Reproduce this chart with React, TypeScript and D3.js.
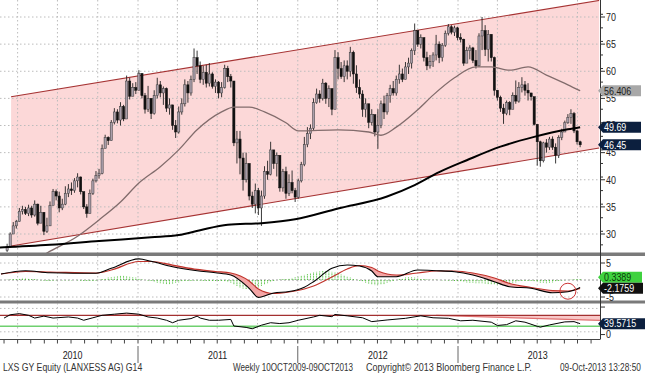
import React from "react";
import * as d3 from "d3";

// ---------------- data ----------------
const firstWeek = [2010, 2, 8]; // weekly candles start (Mon 8 Mar 2010)
const firstOpen = 27.0;
const closes = [
  27.6, 30.0, 31.5, 32.3, 34.2, 34.5, 33.8, 34.8, 33.5, 35.5,
  32.0, 34.0, 30.5, 31.5, 35.3, 37.8, 37.0, 34.8, 35.5, 37.5,
  38.3, 38.0, 39.8, 40.5, 37.8, 35.0, 33.8, 37.5, 39.8, 40.8,
  41.2, 45.8, 47.8, 47.2, 50.6, 52.5, 51.0, 53.5, 51.2, 58.2,
  55.4, 57.0, 56.5, 59.6, 55.5, 53.0, 55.0, 52.2, 55.5, 57.5,
  56.0, 56.8, 53.2, 53.8, 50.0, 48.8, 52.5, 54.0, 57.5, 56.0,
  58.5, 62.5, 61.0, 58.5, 59.8, 57.8, 59.5, 57.2, 58.0, 56.0,
  57.0, 60.5, 59.0, 58.2, 46.8, 47.5, 44.0, 40.0, 43.0, 37.0,
  35.5, 38.0, 34.8, 37.0, 41.5, 41.0, 45.5, 43.0, 44.5, 38.5,
  41.5, 37.5, 39.5, 38.0, 36.8, 39.8, 42.8, 46.5, 48.5, 49.5,
  54.2, 55.8, 55.0, 57.8, 55.0, 56.8, 53.0, 62.5, 60.5, 59.0,
  61.0, 60.0, 63.5, 59.5, 57.0, 55.8, 53.0, 54.0, 50.6, 52.0,
  48.8, 50.0, 54.0, 52.5, 55.5, 56.8, 56.0, 58.5, 59.5, 58.5,
  60.8, 61.5, 63.8, 67.5, 65.0, 66.2, 62.5, 61.0, 61.8, 63.0,
  65.0, 62.5, 64.8, 67.0, 68.2, 67.2, 68.0, 66.2, 65.9, 61.5,
  63.8, 64.3, 62.0, 61.0, 66.5, 67.5, 64.0, 66.8, 62.5, 56.5,
  55.2, 53.2, 52.2, 54.2, 53.0, 55.5, 54.5, 57.0, 57.5, 56.5,
  56.0, 55.3, 50.2, 47.0, 43.5, 46.8, 46.0, 47.5, 46.0, 44.5,
  47.8, 48.8, 50.5, 51.5, 52.2, 49.0, 47.0, 46.45,
];
const highs = [
  28.2, 30.3, 32.2, 32.6, 34.8, 35.2, 35.0, 35.4, 35.2, 36.2,
  35.6, 35.2, 33.8, 33.0, 36.0, 38.3, 38.2, 37.8, 36.5, 38.8,
  39.2, 39.5, 40.3, 41.2, 40.6, 37.6, 35.5, 38.2, 40.2, 41.6,
  42.0, 46.5, 48.3, 48.0, 51.0, 53.2, 53.0, 54.3, 53.8, 59.2,
  58.8, 57.8, 58.0, 60.2, 59.5, 56.0, 57.3, 55.0, 56.5, 58.8,
  58.2, 57.2, 57.0, 55.0, 53.5, 51.0, 53.5, 55.0, 58.5, 58.2,
  59.2, 64.2, 63.8, 61.8, 61.0, 61.2, 61.5, 59.8, 58.5, 58.2,
  58.0, 61.2, 61.0, 59.5, 57.8, 49.0, 49.0, 45.0, 45.0, 39.0,
  37.8, 39.3, 38.5, 38.0, 42.5, 43.5, 47.0, 45.5, 45.0, 42.5,
  42.0, 42.4, 41.0, 41.7, 38.5, 40.2, 43.3, 47.9, 49.7, 50.2,
  55.0, 56.8, 56.5, 58.6, 58.0, 57.4, 56.2, 63.9, 63.5, 61.7,
  62.0, 62.0, 64.5, 63.8, 61.1, 58.5, 56.5, 55.0, 54.0, 53.0,
  52.0, 53.0, 54.6, 55.5, 56.0, 57.5, 58.2, 59.2, 61.2, 60.5,
  61.7, 62.5, 64.2, 68.8, 67.0, 66.8, 64.2, 63.6, 63.0, 63.5,
  66.7, 65.5, 65.2, 67.5, 68.7, 68.5, 68.4, 68.2, 67.0, 66.0,
  64.5, 64.8, 64.5, 63.9, 67.0, 70.0, 68.5, 67.6, 63.5, 62.7,
  56.4, 55.5, 54.0, 54.6, 54.5, 56.1, 58.3, 58.0, 58.9, 58.2,
  57.8, 56.0, 55.3, 50.3, 47.2, 47.0, 47.5, 47.9, 48.0, 46.7,
  48.2, 49.4, 50.9, 52.1, 53.0, 52.5, 49.2, 47.2,
];
const lows = [
  26.7, 27.5, 30.3, 31.0, 32.4, 33.6, 33.5, 33.3, 33.0, 33.2,
  31.6, 32.6, 29.8, 30.2, 31.8, 35.5, 36.2, 34.0, 34.4, 35.3,
  36.8, 37.2, 37.6, 38.6, 37.3, 34.6, 33.0, 34.0, 37.2, 39.5,
  40.2, 41.0, 45.8, 46.4, 47.5, 50.2, 50.4, 50.0, 50.8, 54.4,
  54.8, 55.4, 55.8, 57.0, 55.0, 52.2, 52.5, 51.2, 52.0, 55.0,
  55.2, 53.8, 52.5, 52.0, 49.2, 47.7, 48.5, 52.0, 53.5, 54.2,
  55.5, 58.0, 59.5, 57.8, 57.5, 57.0, 57.2, 56.8, 56.0, 55.0,
  55.2, 56.8, 58.0, 57.0, 46.2, 43.0, 41.0, 38.0, 39.5, 36.2,
  34.8, 33.8, 33.5, 31.5, 36.5, 40.0, 40.8, 42.0, 40.6, 37.8,
  37.8, 36.5, 37.0, 37.5, 35.9, 36.5, 39.5, 42.5, 46.0, 47.5,
  49.0, 54.0, 54.2, 54.6, 54.0, 53.4, 51.9, 53.0, 58.5, 58.6,
  58.0, 58.5, 59.0, 57.7, 56.0, 55.0, 51.6, 51.5, 49.5, 50.0,
  48.0, 45.7, 49.5, 51.2, 52.0, 54.2, 55.5, 55.5, 57.7, 58.0,
  58.5, 59.5, 60.5, 63.0, 64.5, 64.2, 61.8, 60.2, 60.5, 60.8,
  62.0, 61.5, 61.8, 64.5, 66.6, 66.8, 66.5, 65.7, 65.3, 61.0,
  61.5, 62.2, 61.5, 60.5, 60.8, 63.9, 62.8, 61.8, 61.8, 55.5,
  54.6, 52.5, 50.3, 51.9, 51.9, 53.0, 54.0, 54.2, 56.1, 55.5,
  54.6, 54.6, 50.0, 42.6, 42.4, 43.2, 45.0, 45.5, 45.5, 43.0,
  44.0, 47.3, 48.8, 50.3, 50.3, 48.6, 46.5, 46.0,
];

// moving averages (week index, value)
const ma50Idx = [8, 13, 23, 30, 37, 43, 50, 56, 62, 70, 74, 79, 84, 91, 95, 108, 118, 122, 127, 134, 139, 146, 153, 158, 164, 170, 176, 183, 187];
const ma50Val = [24.8, 26.5, 29.6, 32.6, 35.9, 39.4, 42.4, 45.5, 49.2, 52.5, 53.4, 53.4, 52.5, 50.5, 49.0, 49.2, 48.8, 48.2, 49.7, 52.9, 55.6, 58.8, 60.8, 60.8, 60.2, 60.8, 59.3, 57.5, 56.406];
const ma200Idx = [-3, 14, 30, 47, 56, 63, 72, 83, 94, 108, 124, 133, 141, 150, 161, 172, 183, 187];
const ma200Val = [27.5, 28.0, 28.7, 29.4, 29.8, 30.7, 31.7, 32.0, 32.7, 34.7, 36.9, 39.0, 41.4, 43.6, 46.1, 47.9, 49.3, 49.69];

// trend channel (week index, upper, lower)
const chanIdx = [1.3, 193.2];
const chanUpper = [55.3, 73.05];
const chanLower = [27.8, 45.85];

// MACD
const macdIdx = [-2, 6, 14, 29, 34, 43, 47, 54, 62, 68, 73, 79, 82, 87, 92, 97, 100, 106, 111, 115, 119, 121, 127, 134, 140, 146, 152, 159, 164, 171, 178, 183, 187];
const macdVal = [1.76, 2.74, 2.15, 1.97, 3.44, 6.2, 5.5, 3.9, 2.74, 2.15, 1.47, -2.44, -5.1, -3.8, -3.4, -2.1, -0.5, 3.44, 4.4, 4.1, 2.65, 0.97, 0.97, 2.94, 2.74, 2.44, 1.47, -0.5, -1.97, -2.44, -3.74, -3.44, -2.1759];
const signalVal = [1.76, 2.5, 2.35, 2.06, 2.94, 5.44, 5.44, 4.4, 3.1, 2.5, 2.06, -0.3, -2.65, -3.97, -3.53, -2.65, -1.76, 0.88, 3.24, 4.26, 3.68, 2.65, 1.47, 2.06, 2.65, 2.65, 2.06, 0.59, -1.03, -2.2, -3.1, -3.24, -2.51];
const hist = [
  0.1, 0.2, 0.3, 0.4, 0.5, 0.6, 0.6, 0.5, 0.4, 0.3,
  0.1, -0.1, -0.2, -0.3, -0.3, -0.2, -0.1, 0, -0.1, -0.1,
  -0.1, -0.1, 0, -0.1, -0.2, -0.3, -0.4, -0.4, -0.3, -0.2,
  0.1, 0.3, 0.5, 0.7, 0.9, 1.0, 1.1, 1.2, 1.2, 1.1,
  1.0, 0.9, 0.7, 0.5, 0.2, 0, -0.2, -0.4, -0.6, -0.8,
  -1.0, -1.1, -1.2, -1.2, -1.1, -0.9, -0.7, -0.5, -0.4, -0.3,
  -0.3, -0.2, -0.2, -0.2, -0.3, -0.3, -0.3, -0.3, -0.4, -0.4,
  -0.4, -0.5, -0.6, -0.8, -1.3, -1.8, -2.2, -2.5, -2.7, -2.8,
  -2.7, -2.5, -2.2, -1.8, -1.4, -1.0, -0.6, -0.3, 0, 0.2,
  0.3, 0.4, 0.5, 0.6, 0.8, 1.0, 1.2, 1.5, 1.8, 2.0,
  2.2, 2.4, 2.5, 2.6, 2.6, 2.5, 2.4, 2.2, 1.9, 1.6,
  1.3, 1.0, 0.7, 0.4, 0.1, -0.2, -0.5, -0.8, -1.1, -1.3,
  -1.5, -1.5, -1.4, -1.2, -0.9, -0.6, -0.3, 0, 0.3, 0.5,
  0.7, 0.8, 0.8, 0.7, 0.6, 0.4, 0.3, 0.2, 0.1, 0.1,
  0.1, 0, -0.1, -0.1, -0.2, -0.2, -0.3, -0.4, -0.5, -0.6,
  -0.7, -0.8, -0.9, -1.0, -1.0, -1.0, -1.1, -1.2, -1.3, -1.4,
  -1.5, -1.5, -1.4, -1.3, -1.1, -0.9, -0.7, -0.5, -0.4, -0.3,
  -0.3, -0.4, -0.5, -0.6, -0.8, -0.9, -1.0, -0.9, -0.7, -0.5,
  -0.3, -0.2, -0.1, 0, 0.1, 0.2, 0.3, 0.3389,
];

// RSI
const rsiIdx = [-1, 1, 4, 7, 9, 12, 15, 20, 23, 25, 28, 31, 35, 39, 43, 46, 49, 52, 54, 56, 60, 62, 63, 66, 69, 73, 74, 78, 80, 83, 86, 89, 92, 95, 100, 102, 106, 107, 111, 116, 119, 124, 130, 135, 139, 144, 148, 152, 158, 160, 163, 166, 169, 173, 174, 177, 182, 185, 187];
const rsiVal = [60, 72, 76, 70, 60, 67, 60, 64, 60, 52, 61, 70, 74, 78, 74, 64, 60, 52, 43, 52, 58, 67, 60, 52, 52, 55, 31, 26, 21, 34, 43, 40, 43, 52, 64, 70, 65, 73, 68, 61, 47, 53, 59, 68, 61, 59, 50, 52, 45, 33, 36, 50, 45, 30, 27, 35, 46, 47, 39.57];
const rsiTrendIdx = [140, 194];
const rsiTrendVal = [70, 51];

const priceTicks = [30, 35, 40, 45, 50, 55, 60, 65, 70];
const yearLabels = [2010, 2011, 2012, 2013];
const footer = [
  { text: "LXS GY Equity (LANXESS AG) G14", x: 3, w: 140 },
  { text: "Weekly 10OCT2009-09OCT2013", x: 233, w: 120 },
  { text: "Copyright\u00A9 2013 Bloomberg Finance L.P.", x: 366, w: 166 },
  { text: "09-Oct-2013 13:28:50", x: 560, w: 81 },
];

const FONT = "'Liberation Sans', Arial, sans-serif";

let measureCtx: any = null;
function textWidth(s: string, size: number) {
  if (typeof document === "undefined") return s.length * size * 0.55;
  if (!measureCtx) measureCtx = document.createElement("canvas").getContext("2d");
  measureCtx.font = `${size}px 'Liberation Sans', Arial, sans-serif`;
  return measureCtx.measureText(s).width || s.length * size * 0.55;
}

function T(props: any) {
  const { x, y, size = 10.5, anchor = "start", fill = "#222", sx = 0.85, children } = props;
  return (
    <text transform={`translate(${x},${y}) scale(${sx},1)`} fontSize={size} textAnchor={anchor} fill={fill} fontFamily={FONT}>
      {children}
    </text>
  );
}

function Tag(props: any) {
  const { y, text, fill, color, x1 = 641 } = props;
  const x0 = 598, h = 11;
  return (
    <g>
      <path d={`M${x0},${y} L${x0 + 5},${y - h / 2} L${x1},${y - h / 2} L${x1},${y + h / 2} L${x0 + 5},${y + h / 2} Z`} fill={fill} />
      <T x={x0 + 6} y={y + 3.8} fill={color} size={10.5}>{text}</T>
    </g>
  );
}

export default function App() {
  const W = 645, H = 376, R = 600;
  const t0 = new Date(firstWeek[0], firstWeek[1], firstWeek[2]).getTime();
  const wd = (i: number) => new Date(t0 + i * 7 * 864e5);
  const xT = d3.scaleTime().domain([new Date(2011, 0, 1), new Date(2013, 0, 1)]).range([138, 458]);
  const xw = (i: number) => xT(wd(i));
  const yP = d3.scaleLinear().domain([30, 70]).range([234, 17]);
  const yM = d3.scaleLinear().domain([-5, 5]).range([297, 263]);
  const yR = d3.scaleLinear().domain([30, 70]).range([326.3, 315.3]);

  const quarters = d3.timeMonths(new Date(2010, 3, 1), new Date(2013, 10, 2), 3);
  const months = d3.timeMonths(new Date(2010, 2, 1), new Date(2013, 10, 2));
  const yearSeps = [2011, 2012, 2013].map((y) => xT(new Date(y, 0, 1)));
  const yearX = yearLabels.map((y) =>
    y === 2010 ? (xw(0) + xT(new Date(2011, 0, 1))) / 2 : xT(new Date(y, 6, 2))
  );

  const lineXY = (idx: number[], vals: number[], ys: any, curve: any = d3.curveMonotoneX) =>
    d3.line<number>().x((_, k) => xw(idx[k])).y((v) => ys(v)).curve(curve)(vals) || "";

  const ma50Path = lineXY(ma50Idx, ma50Val, yP);
  const ma200Path = lineXY(ma200Idx, ma200Val, yP);
  const macdPath = lineXY(macdIdx, macdVal, yM);
  const sigPath = lineXY(macdIdx, signalVal, yM);
  const macdFill =
    d3.area<number>()
      .x((_, k) => xw(macdIdx[k]))
      .y0((_, k) => yM(signalVal[k]))
      .y1((_, k) => yM(Math.min(macdVal[k], signalVal[k])))
      .curve(d3.curveMonotoneX)(macdVal) || "";
  const rsiPath = lineXY(rsiIdx, rsiVal, yR, d3.curveLinear);
  const rsiHi = d3.area<number>().x((_, k) => xw(rsiIdx[k])).y0(yR(70)).y1((v) => yR(Math.max(v, 70)))(rsiVal) || "";
  const rsiLo = d3.area<number>().x((_, k) => xw(rsiIdx[k])).y0(yR(30)).y1((v) => yR(Math.min(v, 30)))(rsiVal) || "";

  const cx0 = xw(chanIdx[0]), cx1 = xw(chanIdx[1]);
  const chanPoly = `M${cx0},${yP(chanUpper[0])} L${cx1},${yP(chanUpper[1])} L${cx1},${yP(chanLower[1])} L${cx0},${yP(chanLower[0])} Z`;

  const grid = "#bcbcbc";
  const dash = "1.5,2.5";

  return (
    <div style={{ position: "absolute", left: 0, top: 0, width: W, height: H, background: "#fff" }}>
      <svg width={W} height={H} viewBox={`0 0 ${W} ${H}`} style={{ display: "block" }}>
        <defs>
          <clipPath id="cMain"><rect x={0} y={0} width={R} height={253} /></clipPath>
          <clipPath id="cMacd"><rect x={0} y={256} width={R} height={44.5} /></clipPath>
          <clipPath id="cRsi"><rect x={0} y={303.5} width={R} height={35.5} /></clipPath>
        </defs>
        <rect x={0} y={0} width={W} height={H} fill="#fff" />

        {/* ---------- main panel ---------- */}
        <g clipPath="url(#cMain)">
          <path d={chanPoly} fill="#fcd8d8" />
          {priceTicks.map((v) => (
            <line key={v} x1={0} x2={R} y1={yP(v)} y2={yP(v)} stroke={grid} strokeDasharray={dash} />
          ))}
          {quarters.map((d, k) => (
            <line key={k} x1={xT(d)} x2={xT(d)} y1={0} y2={253} stroke={grid} strokeDasharray={dash} />
          ))}
          <line x1={cx0} x2={cx1} y1={yP(chanUpper[0])} y2={yP(chanUpper[1])} stroke="#a63333" strokeWidth={1.1} />
          <line x1={cx0} x2={cx1} y1={yP(chanLower[0])} y2={yP(chanLower[1])} stroke="#a63333" strokeWidth={1.1} />
          {closes.map((c, i) => {
            const o = i === 0 ? firstOpen : closes[i - 1];
            const hi = Math.max(highs[i], o, c), lo = Math.min(lows[i], o, c);
            const up = c >= o;
            const x = xw(i);
            const yt = yP(Math.max(o, c)), yb = yP(Math.min(o, c));
            return (
              <g key={i}>
                <line x1={x} x2={x} y1={yP(hi)} y2={yP(lo)} stroke="#222" strokeWidth={0.9} />
                <rect x={x - 1.1} y={yt} width={2.2} height={Math.max(0.8, yb - yt)} fill={up ? "#aa9eaa" : "#111"} stroke={up ? "#3a3a3a" : "#111"} strokeWidth={0.5} />
              </g>
            );
          })}
          <path d={ma50Path} fill="none" stroke="#826c6c" strokeWidth={1.3} />
          <path d={ma200Path} fill="none" stroke="#000" strokeWidth={2} />
        </g>

        {/* ---------- MACD panel ---------- */}
        <g clipPath="url(#cMacd)">
          {[5, -5].map((v) => (
            <line key={v} x1={0} x2={R} y1={yM(v)} y2={yM(v)} stroke={grid} strokeDasharray={dash} />
          ))}
          {quarters.map((d, k) => (
            <line key={k} x1={xT(d)} x2={xT(d)} y1={256} y2={301} stroke={grid} strokeDasharray={dash} />
          ))}
          <line x1={0} x2={R} y1={yM(0)} y2={yM(0)} stroke="#9a9a9a" strokeDasharray="2,2" />
          {hist.map((h, i) => (
            <line key={i} x1={xw(i)} x2={xw(i)} y1={yM(0)} y2={yM(h)} stroke="#4fbf3a" strokeWidth={1} strokeDasharray="1,0.6" />
          ))}
          <path d={macdFill} fill="#f3a5a5" />
          <path d={sigPath} fill="none" stroke="#c0332b" strokeWidth={1.2} />
          <path d={macdPath} fill="none" stroke="#000" strokeWidth={1.1} />
          <circle cx={xw(183)} cy={yM(-3.3)} r={8} fill="none" stroke="#c33" strokeWidth={1} />
        </g>

        {/* ---------- RSI panel ---------- */}
        <g clipPath="url(#cRsi)">
          {[95, 10].map((v) => (
            <line key={v} x1={0} x2={R} y1={yR(v)} y2={yR(v)} stroke={grid} strokeDasharray={dash} />
          ))}
          {quarters.map((d, k) => (
            <line key={k} x1={xT(d)} x2={xT(d)} y1={303} y2={339} stroke={grid} strokeDasharray={dash} />
          ))}
          <path d={rsiHi} fill="#f6b4b4" />
          <path d={rsiLo} fill="#98e098" />
          <path
            d={`M${xw(rsiTrendIdx[0])},${yR(70)} L${xw(rsiTrendIdx[1])},${yR(rsiTrendVal[1])} L${xw(rsiTrendIdx[1])},${yR(70)} Z`}
            fill="#f8c8c8"
          />
          <line x1={xw(rsiTrendIdx[0])} x2={xw(rsiTrendIdx[1])} y1={yR(rsiTrendVal[0])} y2={yR(rsiTrendVal[1])} stroke="#e07070" strokeWidth={1.2} />
          <line x1={0} x2={R} y1={yR(70)} y2={yR(70)} stroke="#a33030" strokeWidth={1.2} />
          <line x1={0} x2={R} y1={yR(30)} y2={yR(30)} stroke="#6fd06f" strokeWidth={1.6} />
          <path d={rsiPath} fill="none" stroke="#000" strokeWidth={1} />
        </g>

        {/* separators */}
        <rect x={0} y={252.5} width={W} height={3.5} fill="#7a7a7a" />
        <rect x={0} y={300.5} width={W} height={3} fill="#7a7a7a" />

        {/* right axis */}
        <line x1={R + 0.5} x2={R + 0.5} y1={0} y2={339.5} stroke="#333" strokeWidth={1} />
        {d3.range(28, 72.6, 2.5).map((v) => (
          <line key={v} x1={R} x2={R + 3} y1={yP(v)} y2={yP(v)} stroke="#333" />
        ))}
        {priceTicks.map((v) => (
          <g key={v}>
            <line x1={R} x2={R + 5} y1={yP(v)} y2={yP(v)} stroke="#333" />
            <T x={R + 6} y={yP(v) + 3.8}>{String(v)}</T>
          </g>
        ))}
        {[5, -5].map((v) => (
          <g key={v}>
            <line x1={R} x2={R + 5} y1={yM(v)} y2={yM(v)} stroke="#333" />
            <T x={R + 6} y={yM(v) + 3.8}>{String(v)}</T>
          </g>
        ))}
        <line x1={R} x2={R + 5} y1={yR(100)} y2={yR(100)} stroke="#333" />
        <line x1={R} x2={R + 5} y1={yR(0)} y2={yR(0)} stroke="#333" />
        <T x={R + 6} y={yR(0) + 3.8}>0</T>

        {/* value tags */}
        <Tag y={yP(ma50Val[ma50Val.length - 1])} text="56.406" fill="#a8a8a8" color="#1e1e1e" />
        <Tag y={yP(ma200Val[ma200Val.length - 1])} text="49.69" fill="#0c1f3e" color="#fff" />
        <Tag y={yP(closes[closes.length - 1])} text="46.45" fill="#0c1f3e" color="#fff" />
        <Tag y={yM(hist[hist.length - 1]) - 1.5} text="0.3389" fill="#3fd23f" color="#0a3d0a" x1={642} />
        <Tag y={yM(macdVal[macdVal.length - 1]) + 0.8} text="-2.1759" fill="#111" color="#fff" x1={643} />
        <Tag y={yR(rsiVal[rsiVal.length - 1])} text="39.5715" fill="#0c1f3e" color="#fff" x1={645} />

        {/* bottom axis */}
        <line x1={0} x2={R} y1={339.5} y2={339.5} stroke="#444" />
        {months.map((d, k) => (
          <line key={k} x1={xT(d)} x2={xT(d)} y1={339.5} y2={343.5} stroke="#444" />
        ))}
        {yearSeps.map((x, k) => (
          <line key={k} x1={x} x2={x} y1={346} y2={363} stroke="#666" />
        ))}
        {yearLabels.map((y, k) => (
          <T key={y} x={yearX[k]} y={358.5} anchor="middle" size={10.5}>{String(y)}</T>
        ))}
        {footer.map((f) => {
          const sx = f.w / textWidth(f.text, 10);
          return (
            <T key={f.text} x={f.x} y={370.5} size={10} fill="#333" sx={sx}>
              {f.text}
            </T>
          );
        })}
      </svg>
    </div>
  );
}
